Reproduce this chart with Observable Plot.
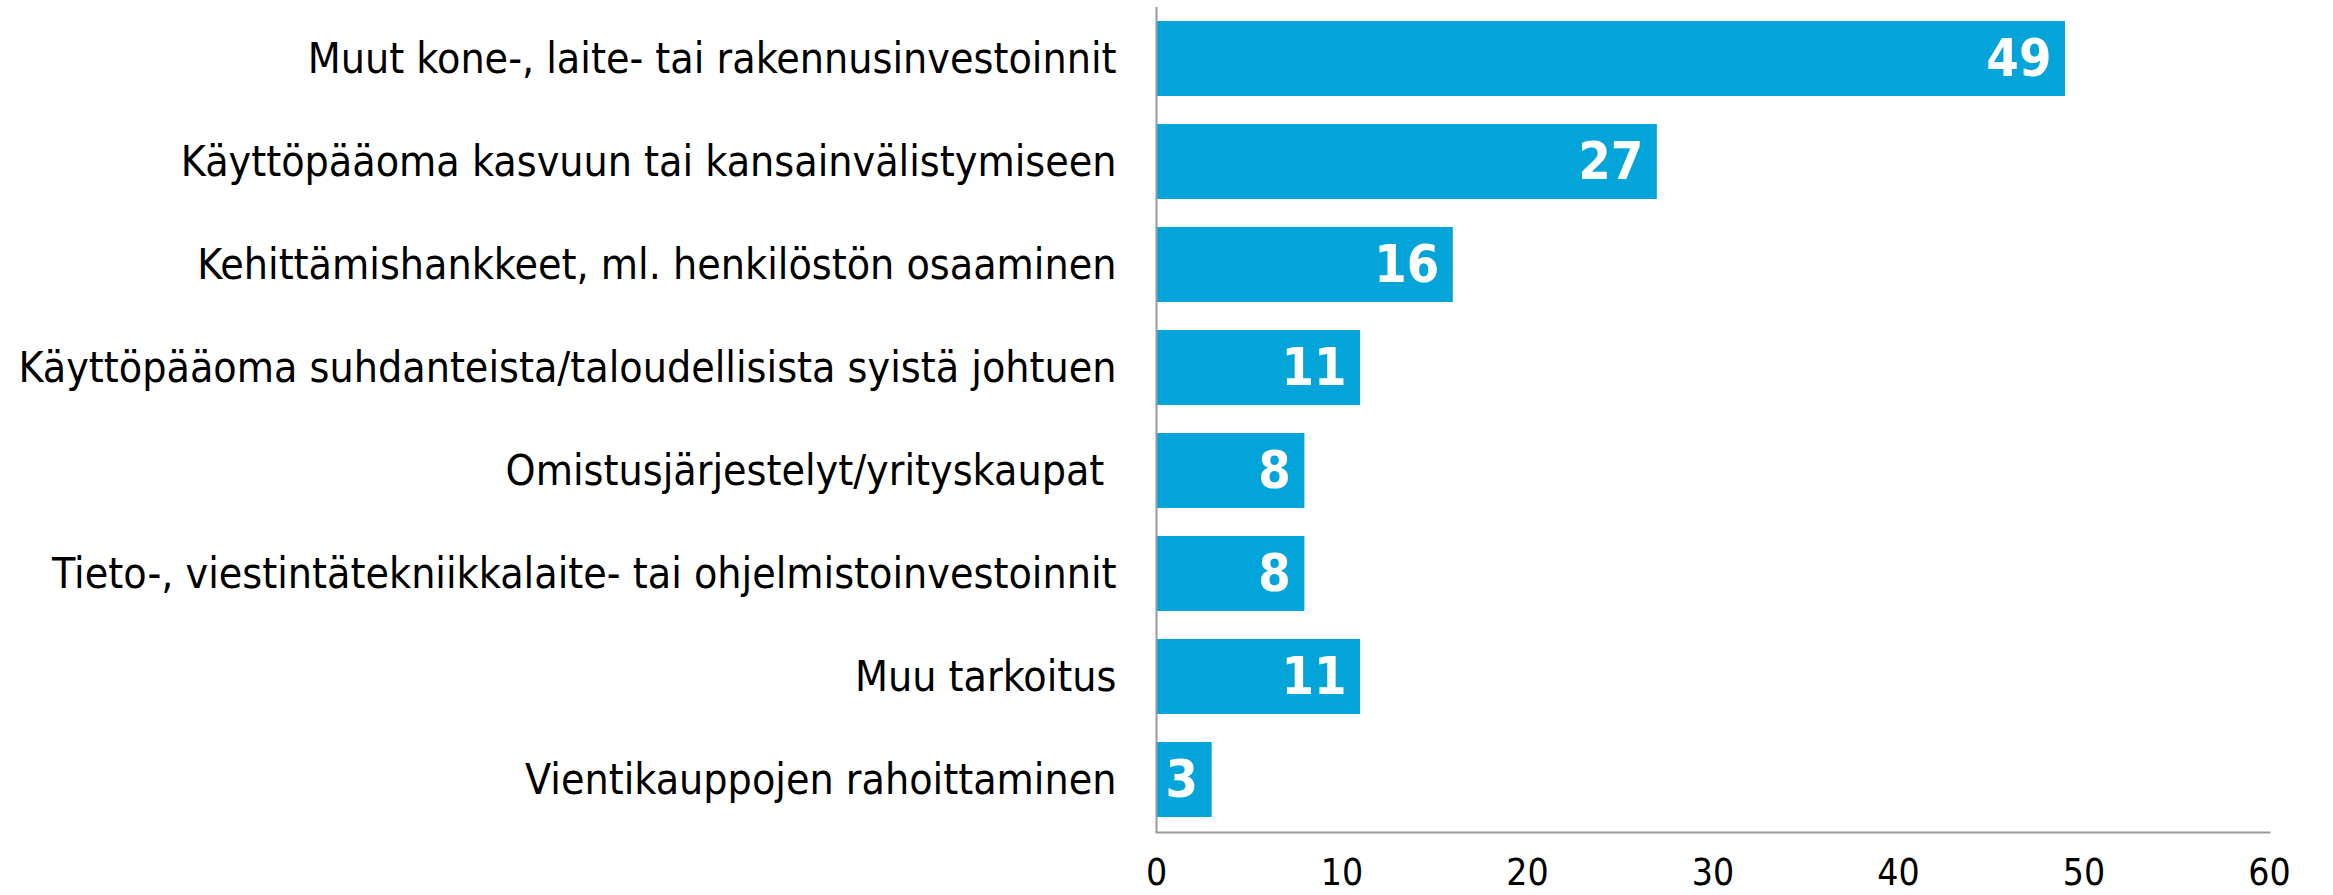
<!DOCTYPE html>
<html>
<head>
<meta charset="utf-8">
<script src="https://cdn.jsdelivr.net/npm/d3@7"></script>
<script src="https://cdn.jsdelivr.net/npm/@observablehq/plot@0.6"></script>
<style>
  html, body { margin: 0; padding: 0; background: #fff; }
</style>
</head>
<body>
<div id="chart"></div>
<script>
const categories = [
  "Muut kone-, laite- tai rakennusinvestoinnit",
  "Käyttöpääoma kasvuun tai kansainvälistymiseen",
  "Kehittämishankkeet, ml. henkilöstön osaaminen",
  "Käyttöpääoma suhdanteista/taloudellisista syistä johtuen",
  "Omistusjärjestelyt/yrityskaupat ",
  "Tieto-, viestintätekniikkalaite- tai ohjelmistoinvestoinnit",
  "Muu tarkoitus",
  "Vientikauppojen rahoittaminen"
];
const values = [49, 27, 16, 11, 8, 8, 11, 3];
const xTicks = [0, 10, 20, 30, 40, 50, 60];

const data = categories.map((c, i) => ({category: c, value: values[i]}));

const chart = Plot.plot({
  width: 2333,
  height: 895,
  marginLeft: 1156,
  marginRight: 64,
  marginTop: 7,
  marginBottom: 63,
  style: {fontFamily: "'DejaVu Sans Condensed', sans-serif", color: "#000", background: "#fff"},
  x: {domain: [0, 60], ticks: xTicks, label: null},
  y: {domain: categories, paddingInner: 0.27, paddingOuter: 0.135, label: null},
  marks: [
    Plot.barX(data, {x: "value", y: "category", fill: "#02A4DA"}),
    Plot.text(data, {x: "value", y: "category", text: d => String(d.value), textAnchor: "end", dx: -14, fill: "white", fontWeight: "bold", fontSize: 52, fontFamily: "'DejaVu Sans Condensed', sans-serif"}),
    Plot.ruleX([0], {stroke: "#999", strokeWidth: 2}),
    Plot.frame({anchor: "bottom", stroke: "#999", strokeWidth: 2}),
    Plot.axisY({tickSize: 0, tickPadding: 40, fontSize: 42.5, label: null}),
    Plot.axisX({ticks: xTicks, tickSize: 0, tickPadding: 26, fontSize: 37, label: null, tickFormat: d => String(d)})
  ]
});
document.getElementById("chart").appendChild(chart);
</script>
</body>
</html>
